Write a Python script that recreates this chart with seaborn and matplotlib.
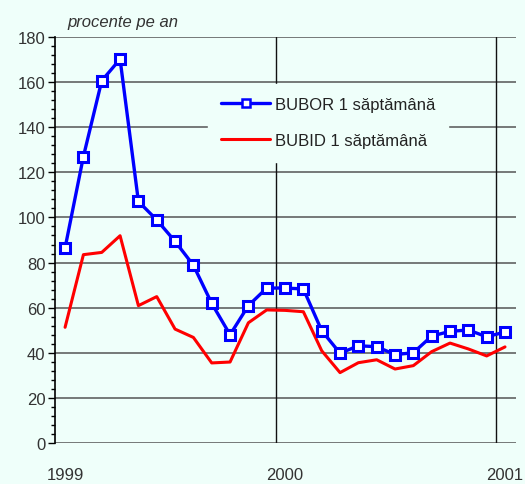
import matplotlib
matplotlib.use("Agg")
import matplotlib.pyplot as plt
from matplotlib.ticker import MultipleLocator
import seaborn as sns
import pandas as pd

# ---- data ----
month_idx = list(range(25))  # Jan 1999 .. Jan 2001
bubor = [86.5, 127, 160.6, 170.2, 107.1, 98.9, 89.4, 78.8, 61.9, 48.0, 60.9, 68.7,
         68.7, 68.3, 49.8, 39.8, 43.1, 42.7, 39.2, 40.0, 47.4, 49.5, 50.1, 47.1, 49.2]
bubid = [51.3, 83.5, 84.5, 91.9, 60.9, 64.9, 50.5, 46.8, 35.5, 35.9, 53.3, 59.0,
         58.8, 58.2, 40.9, 31.2, 35.6, 36.9, 32.8, 34.3, 40.5, 44.3, 41.7, 38.6, 42.6]
series_names = ["BUBOR 1 săptămână", "BUBID 1 săptămână"]
year_labels = ["1999", "2000", "2001"]
year_label_pos = [0, 12, 24]
year_boundaries = [11.5, 23.5]
y_label = "procente pe an"

BG = "#effffa"
sns.set_theme(style="white")
plt.rcParams["font.family"] = ["Liberation Sans", "DejaVu Sans"]

fig = plt.figure(figsize=(5.25, 4.85), dpi=100, facecolor=BG)
ax = fig.add_axes([55/525, 1-444/485, (516-55)/525, (444-38)/485])
ax.set_facecolor(BG)

df = pd.DataFrame({"x": month_idx, "BUBOR": bubor, "BUBID": bubid})

# gridlines
for v in range(0, 181, 20):
    ax.axhline(v, color="#555555", lw=1.1, zorder=1)
for xb in year_boundaries:
    ax.axvline(xb, color="#111111", lw=1.0, zorder=1)

sns.lineplot(data=df, x="x", y="BUBID", ax=ax, color="#ff0000", lw=2.2, zorder=3,
             label=series_names[1])
sns.lineplot(data=df, x="x", y="BUBOR", ax=ax, color="#0000ff", lw=2.4, zorder=4,
             marker="s", markersize=7.5, markerfacecolor="white",
             markeredgecolor="#0000ff", markeredgewidth=2.2, label=series_names[0])

ax.set_xlim(-0.55, 24.6)
ax.set_ylim(0, 180)

ax.yaxis.set_major_locator(MultipleLocator(20))
ax.yaxis.set_minor_locator(MultipleLocator(4))
ax.tick_params(axis="y", which="major", direction="out", length=5, width=1,
               color="black", labelsize=12, labelcolor="#333333", pad=2, left=True)
ax.tick_params(axis="y", which="minor", direction="out", length=3, width=1,
               color="black", left=True)
ax.set_xticks(year_label_pos)
ax.set_xticklabels(year_labels)
ax.tick_params(axis="x", which="both", length=0, labelsize=12,
               labelcolor="#333333", pad=17)

for s in ["top", "right", "bottom"]:
    ax.spines[s].set_visible(False)
ax.spines["left"].set_color("black")
ax.spines["left"].set_linewidth(1.2)
ax.spines["left"].set_zorder(2)

ax.set_xlabel("")
ax.set_ylabel("")
fig.text(67/525, 1-22/485, y_label, fontsize=12, style="italic",
         color="#333333", ha="left", va="center")

handles, labels = ax.get_legend_handles_labels()
order = [labels.index(series_names[0]), labels.index(series_names[1])]
handles = [handles[i] for i in order]
labels = [labels[i] for i in order]
leg = ax.legend(handles, labels, loc="upper left",
                bbox_to_anchor=((208-55)/461, 1-(85-38)/406),
                borderaxespad=0, frameon=True, facecolor=BG, edgecolor=BG,
                fancybox=False, framealpha=1, fontsize=12, handlelength=2.9,
                handletextpad=0.3, borderpad=0.8, labelspacing=1.25)
for t in leg.get_texts():
    t.set_color("#222222")
leg.legend_handles[0].set_markersize(6)
leg.legend_handles[0].set_markeredgewidth(1.8)
leg.set_zorder(10)

fig.savefig("out.png", dpi=100, facecolor=BG)
